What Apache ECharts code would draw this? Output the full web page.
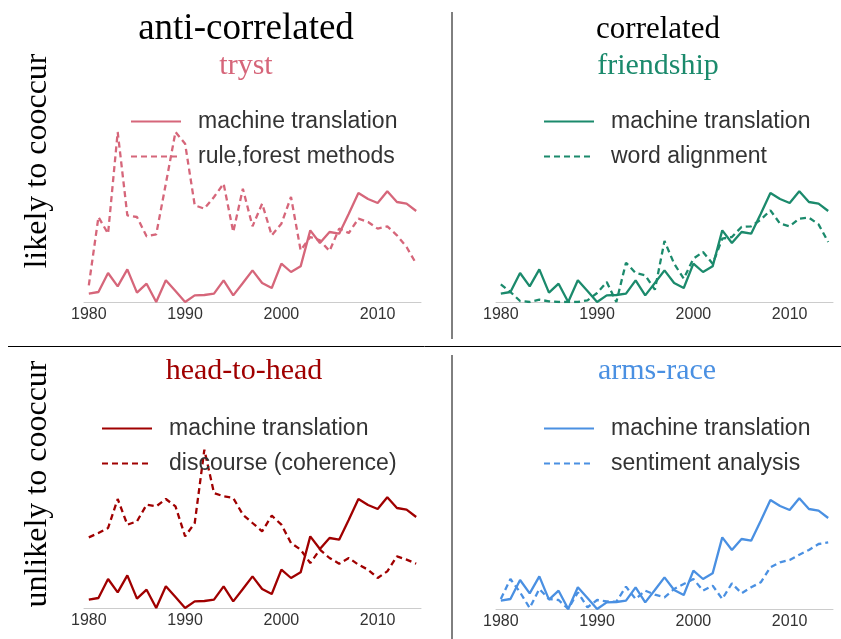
<!DOCTYPE html>
<html>
<head>
<meta charset="utf-8">
<script src="https://cdn.jsdelivr.net/npm/echarts@6/dist/echarts.min.js"></script>
<style>html,body{margin:0;padding:0;background:#fff}#c{width:841px;height:639px}</style>
</head>
<body>
<div id="c"></div>
<script>
const years = [];
for (let y = 1980; y <= 2014; y++) years.push(String(y));
const tickLabels = [1980, 1990, 2000, 2010];

const machineTranslation = [25,30,87,47,98,28,55,0,65,33,0,20,21,25,65,20,57,95,57,42,115,90,107,215,177,210,205,265,327,309,297,332,300,295,273];
const ruleForest = [50,255,205,510,260,255,197,203,355,510,475,290,280,315,355,210,340,227,295,200,235,315,155,195,185,153,220,207,250,240,220,227,200,165,115];
const wordAlignment = [53,30,3,0,7,2,0,0,0,5,27,60,0,118,87,80,37,183,115,70,130,150,115,190,195,225,227,247,275,235,227,250,253,233,180];
const discourse = [212,225,240,327,250,260,310,305,327,305,215,255,475,345,335,330,280,255,230,277,250,195,175,135,175,150,133,150,130,115,90,110,155,145,133];
const sentiment = [30,90,50,3,60,30,27,0,50,5,27,23,22,67,30,55,43,35,60,75,90,55,70,30,77,47,65,80,125,140,147,163,177,195,200];

const panelTitles = ['anti-correlated', 'correlated'];
const relationNames = ['tryst', 'friendship', 'head-to-head', 'arms-race'];
const rowLabels = ['likely to cooccur', 'unlikely to cooccur'];
const seriesLabels = {
  a1: 'machine translation', a2: 'rule,forest methods',
  b1: 'machine translation', b2: 'word alignment',
  c1: 'machine translation', c2: 'discourse (coherence)',
  d1: 'machine translation', d2: 'sentiment analysis'
};
const colors = ['#d6667a', '#1b8a6c', '#a00000', '#4a90e2'];

const grids = [
  {left: 84, top: 132, width: 337, height: 170},
  {left: 496, top: 132, width: 337, height: 170},
  {left: 84, top: 438, width: 337, height: 170},
  {left: 496, top: 439, width: 337, height: 170}
];
const legendPos = [
  {left: 130, top: 110},
  {left: 543, top: 110},
  {left: 101, top: 417},
  {left: 543, top: 417}
];
const keys = ['a', 'b', 'c', 'd'];
const others = [ruleForest, wordAlignment, discourse, sentiment];

const sans = 'Liberation Sans';

const xAxes = grids.map((g, i) => ({
  type: 'category', gridIndex: i, data: years, boundaryGap: true,
  axisLine: {show: true, lineStyle: {color: '#cccccc', width: 1}},
  axisTick: {show: false},
  splitLine: {show: false},
  axisLabel: {
    interval: (idx, val) => tickLabels.includes(+val),
    color: '#333', fontSize: 16, fontFamily: sans, margin: 5
  }
}));
const yAxes = grids.map((g, i) => ({
  type: 'value', gridIndex: i, min: 0, max: 510, show: false,
  splitLine: {show: false}
}));

const series = [];
keys.forEach((k, i) => {
  series.push({
    name: k + '1', type: 'line', xAxisIndex: i, yAxisIndex: i,
    data: machineTranslation, showSymbol: false, symbol: 'none',
    lineStyle: {color: colors[i], width: 2.3}, itemStyle: {color: colors[i]},
    animation: false
  });
  series.push({
    name: k + '2', type: 'line', xAxisIndex: i, yAxisIndex: i,
    data: others[i], showSymbol: false, symbol: 'none',
    lineStyle: {color: colors[i], width: 2.3, type: [6, 4]}, itemStyle: {color: colors[i]},
    animation: false
  });
});

const legends = keys.map((k, i) => ({
  orient: 'vertical', left: legendPos[i].left, top: legendPos[i].top,
  padding: 0,
  data: [k + '1', k + '2'],
  itemWidth: 50, itemHeight: 14, itemGap: 12,
  itemStyle: {opacity: 0, color: 'transparent', borderWidth: 0},
  formatter: n => seriesLabels[n],
  textStyle: {fontSize: 23, color: '#333', fontFamily: sans, padding: [0, 0, 0, 12], lineHeight: 23},
  selectedMode: false
}));

const graphics = [
  {type: 'text', x: 246, y: 29, style: {text: panelTitles[0], font: '37px "Liberation Serif"', fill: '#000', textAlign: 'center', textVerticalAlign: 'middle'}},
  {type: 'text', x: 658, y: 30, style: {text: panelTitles[1], font: '31px "Liberation Serif"', fill: '#000', textAlign: 'center', textVerticalAlign: 'middle'}},
  {type: 'text', x: 246, y: 66, style: {text: relationNames[0], font: '30px "Liberation Serif"', fill: colors[0], textAlign: 'center', textVerticalAlign: 'middle'}},
  {type: 'text', x: 658, y: 66, style: {text: relationNames[1], font: '30px "Liberation Serif"', fill: colors[1], textAlign: 'center', textVerticalAlign: 'middle'}},
  {type: 'text', x: 244, y: 371, style: {text: relationNames[2], font: '30px "Liberation Serif"', fill: colors[2], textAlign: 'center', textVerticalAlign: 'middle'}},
  {type: 'text', x: 657, y: 371, style: {text: relationNames[3], font: '30px "Liberation Serif"', fill: colors[3], textAlign: 'center', textVerticalAlign: 'middle'}},
  {type: 'text', x: 38, y: 161, rotation: Math.PI / 2, style: {text: rowLabels[0], font: '32px "Liberation Serif"', fill: '#000', textAlign: 'center', textVerticalAlign: 'middle'}},
  {type: 'text', x: 38, y: 484, rotation: Math.PI / 2, style: {text: rowLabels[1], font: '32px "Liberation Serif"', fill: '#000', textAlign: 'center', textVerticalAlign: 'middle'}},
  {type: 'line', shape: {x1: 452, y1: 12, x2: 452, y2: 339}, style: {stroke: '#000', lineWidth: 1}},
  {type: 'line', shape: {x1: 8, y1: 346.5, x2: 841, y2: 346.5}, style: {stroke: '#000', lineWidth: 1}},
  {type: 'line', shape: {x1: 452, y1: 355, x2: 452, y2: 639}, style: {stroke: '#000', lineWidth: 1}}
];

const chart = echarts.init(document.getElementById('c'), null, {renderer: 'canvas'});
chart.setOption({
  backgroundColor: '#fff',
  animation: false,
  grid: grids,
  xAxis: xAxes,
  yAxis: yAxes,
  legend: legends,
  series: series,
  graphic: graphics
});
</script>
</body>
</html>
